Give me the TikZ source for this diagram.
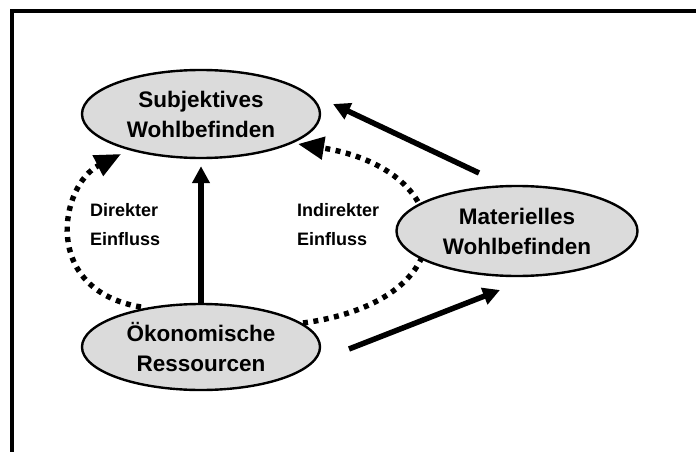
\documentclass[tikz,border=0pt]{standalone}
\usepackage{fontspec}
\setmainfont{Liberation Sans}
\usetikzlibrary{shapes.geometric,arrows.meta}

\tikzset{
  bubble/.style={ellipse, draw=black, line width=2.4pt, fill=black!14,
    inner sep=0pt, align=center, font=\fontsize{22.5}{30}\selectfont\bfseries},
  solidarrow/.style={line width=5.5pt, -{Triangle[length=17pt,width=17pt]}},
  dotarrow/.style={line width=5.4pt, dash pattern=on 5pt off 5.5pt,
    -{Triangle[length=26pt,width=22pt]}},
  lbl/.style={anchor=base west, inner sep=0pt,
    font=\fontsize{18}{20}\selectfont\bfseries},
  frame/.style={line width=4.5pt}
}

\begin{document}
\begin{tikzpicture}[x=1pt,y=-1pt]
  \useasboundingbox (0,0) rectangle (696,452);

  % open frame: top and left rules only
  \coordinate (fl) at (12,452);
  \coordinate (fc) at (12,11);
  \coordinate (fr) at (696,11);
  \draw[frame] (fl) -- (fc) -- (fr);

  % positions of the three concepts
  \coordinate (psw) at (201,114);
  \coordinate (pmw) at (517,231);
  \coordinate (pok) at (201,347);

  % dotted influence arcs (drawn first, so the bubbles cover their ends)
  \coordinate (dirtip) at (121,154);
  \coordinate (indtip) at (298,144);
  \draw[dotarrow] (pok) ++(-60,-40) coordinate (dirstart)
    .. controls (40,290) and (60,185) .. (dirtip);
  \draw[dotarrow] (pok) ++(102,-24) coordinate (indstart)
    .. controls (470,300) and (460,170) .. (indtip);

  % concepts
  \node[bubble, minimum width=238pt, minimum height=88pt] (sw) at (psw)
    {\fontsize{22.5}{24}\selectfont Subjektives\\Wohlbefinden};
  \node[bubble, minimum width=241pt, minimum height=90pt] (mw) at (pmw)
    {Materielles\\Wohlbefinden};
  \node[bubble, minimum width=238pt, minimum height=86pt] (ok) at (pok)
    {Ökonomische\\Ressourcen};

  % direct arrows
  \draw[solidarrow, shorten >=7pt] (ok.north) -- (sw.south);
  \coordinate (mwtail) at (479,173);
  \coordinate (swtip) at (333,104);
  \draw[solidarrow] (mwtail) -- (swtip);
  \coordinate (oktail) at (349,349);
  \coordinate (mwtip) at (500,290);
  \draw[solidarrow] (oktail) -- (mwtip);

  % arc labels
  \node[lbl] (dir1) at (90,216) {Direkter};
  \node[lbl] (dir2) at (90,245) {Einfluss};
  \node[lbl] (ind1) at (297,216) {Indirekter};
  \node[lbl] (ind2) at (297,245) {Einfluss};
\end{tikzpicture}
\end{document}
